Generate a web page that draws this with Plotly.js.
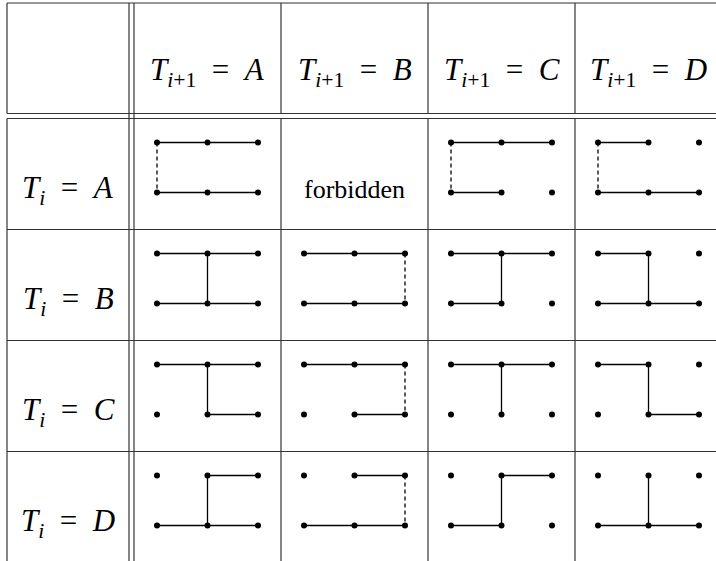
<!DOCTYPE html>
<html>
<head>
<meta charset="utf-8">
<script src="https://cdn.plot.ly/plotly-3.0.1.min.js"></script>
<style>
  html, body { margin: 0; padding: 0; background: white; }
  #graph { width: 716px; height: 561px; }
</style>
</head>
<body>
<div id="graph"></div>
<script>
// T_{i+1} across the top, T_i down the side
const colLabels = ['A', 'B', 'C', 'D'];
const rowLabels = ['A', 'B', 'C', 'D'];
const forbiddenText = 'forbidden';

// edges in each cell: t12/t23 top segments, b12/b23 bottom segments,
// v1/v2/v3 vertical rungs, a trailing 'd' means dashed, null = forbidden
const cellEdges = [
    ['t12 t23 b12 b23 v1d', null, 't12 t23 b12 v1d', 't12 b12 b23 v1d'],
    ['t12 t23 b12 b23 v2', 't12 t23 b12 b23 v3d', 't12 t23 b12 v2', 't12 b12 b23 v2'],
    ['t12 t23 b23 v2', 't12 t23 b23 v3d', 't12 t23 v2', 't12 b23 v2'],
    ['t23 b12 b23 v2', 't23 b12 b23 v3d', 't23 b12 v2', 'b12 b23 v2'],
];

// table geometry (pixels)
const X0 = 7, LABEL_W = 122, GAP = 5, CELL_W = 147;
const Y0 = 3, HEAD_H = 110.5, ROW_H = 111;
const DOT_DX = 50.5, DOT_TOP = 24, DOT_BOT = 74;

const colLeft = j => X0 + LABEL_W + GAP + j * CELL_W;
const rowTop = i => Y0 + HEAD_H + GAP + i * ROW_H;

// dot positions inside a cell
function dotXY(i, j, name) {
    const cx = colLeft(j) + CELL_W / 2;
    const k = Number(name[1]) - 2;
    return [cx + k * DOT_DX, rowTop(i) + (name[0] === 't' ? DOT_TOP : DOT_BOT)];
}

const dots = { x: [], y: [] };
const solid = { x: [], y: [] };
const dashed = { x: [], y: [] };

cellEdges.forEach((row, i) => {
    row.forEach((code, j) => {
        if (code === null) return;
        ['t1', 't2', 't3', 'b1', 'b2', 'b3'].forEach(n => {
            const p = dotXY(i, j, n);
            dots.x.push(p[0]); dots.y.push(p[1]);
        });
        code.split(' ').forEach(e => {
            let a, b;
            if (e[0] === 'v') {
                a = 't' + e[1]; b = 'b' + e[1];
            } else {
                a = e[0] + e[1]; b = e[0] + e[2];
            }
            const pa = dotXY(i, j, a), pb = dotXY(i, j, b);
            const tr = e.endsWith('d') ? dashed : solid;
            tr.x.push(pa[0], pb[0], null);
            tr.y.push(pa[1], pb[1], null);
        });
    });
});

const traces = [
    { x: solid.x, y: solid.y, mode: 'lines', line: { color: 'black', width: 1.3 }, hoverinfo: 'none' },
    { x: dashed.x, y: dashed.y, mode: 'lines', line: { color: 'black', width: 1.3, dash: '4px,3px' }, hoverinfo: 'none' },
    { x: dots.x, y: dots.y, mode: 'markers', marker: { color: 'black', size: 6 }, hoverinfo: 'none' },
];

// grid lines
const lineStyle = { color: '#333', width: 1.2 };
const shapes = [];
const hline = (y, x0, x1) => shapes.push({ type: 'line', xref: 'x', yref: 'y', x0: x0, x1: x1, y0: y, y1: y, line: lineStyle });
const vline = (x, y0, y1) => shapes.push({ type: 'line', xref: 'x', yref: 'y', x0: x, x1: x, y0: y0, y1: y1, line: lineStyle });

const headBot = Y0 + HEAD_H;
const right = colLeft(colLabels.length);
const bottom = rowTop(rowLabels.length);
hline(Y0, X0, right);
hline(headBot, X0, right);
for (let i = 0; i <= rowLabels.length; i++) hline(rowTop(i), X0, right);
// double rule after the label column runs through the gap
vline(X0 + LABEL_W, Y0, bottom);
vline(colLeft(0), Y0, bottom);
[X0].concat(colLabels.map((_, j) => colLeft(j + 1))).forEach(x => {
    vline(x, Y0, headBot);
    vline(x, rowTop(0), bottom);
});

const SERIF = '"Liberation Serif", "Times New Roman", Times, serif';
const NB = '\u00A0';
const mathFont = { family: SERIF, size: 31, color: 'black' };
const annotations = [];
colLabels.forEach((c, j) => {
    annotations.push({
        x: colLeft(j) + CELL_W / 2, y: 72, xref: 'x', yref: 'y',
        text: '<i>T</i><sub><i>i</i>+1</sub>' + NB + ' =' + NB + ' <i>' + c + '</i>',
        showarrow: false, xanchor: 'center', yanchor: 'middle', font: mathFont,
    });
});
rowLabels.forEach((r, i) => {
    annotations.push({
        x: X0 + LABEL_W / 2, y: rowTop(i) + 71, xref: 'x', yref: 'y',
        text: '<i>T</i><sub><i>i</i></sub>' + NB + ' =' + NB + ' <i>' + r + '</i>',
        showarrow: false, xanchor: 'center', yanchor: 'middle', font: mathFont,
    });
});
cellEdges.forEach((row, i) => row.forEach((code, j) => {
    if (code !== null) return;
    annotations.push({
        x: colLeft(j) + CELL_W / 2, y: rowTop(i) + 71, xref: 'x', yref: 'y',
        text: forbiddenText, showarrow: false, xanchor: 'center', yanchor: 'middle',
        font: { family: SERIF, size: 26, color: 'black' },
    });
}));

const layout = {
    width: 716,
    height: 561,
    margin: { l: 0, r: 0, t: 0, b: 0 },
    showlegend: false,
    font: { family: SERIF },
    plot_bgcolor: 'white',
    paper_bgcolor: 'white',
    xaxis: { range: [0, 716], visible: false, fixedrange: true },
    yaxis: { range: [561, 0], visible: false, fixedrange: true },
    shapes: shapes,
    annotations: annotations,
};

Plotly.newPlot('graph', traces, layout, { staticPlot: true });
</script>
</body>
</html>
